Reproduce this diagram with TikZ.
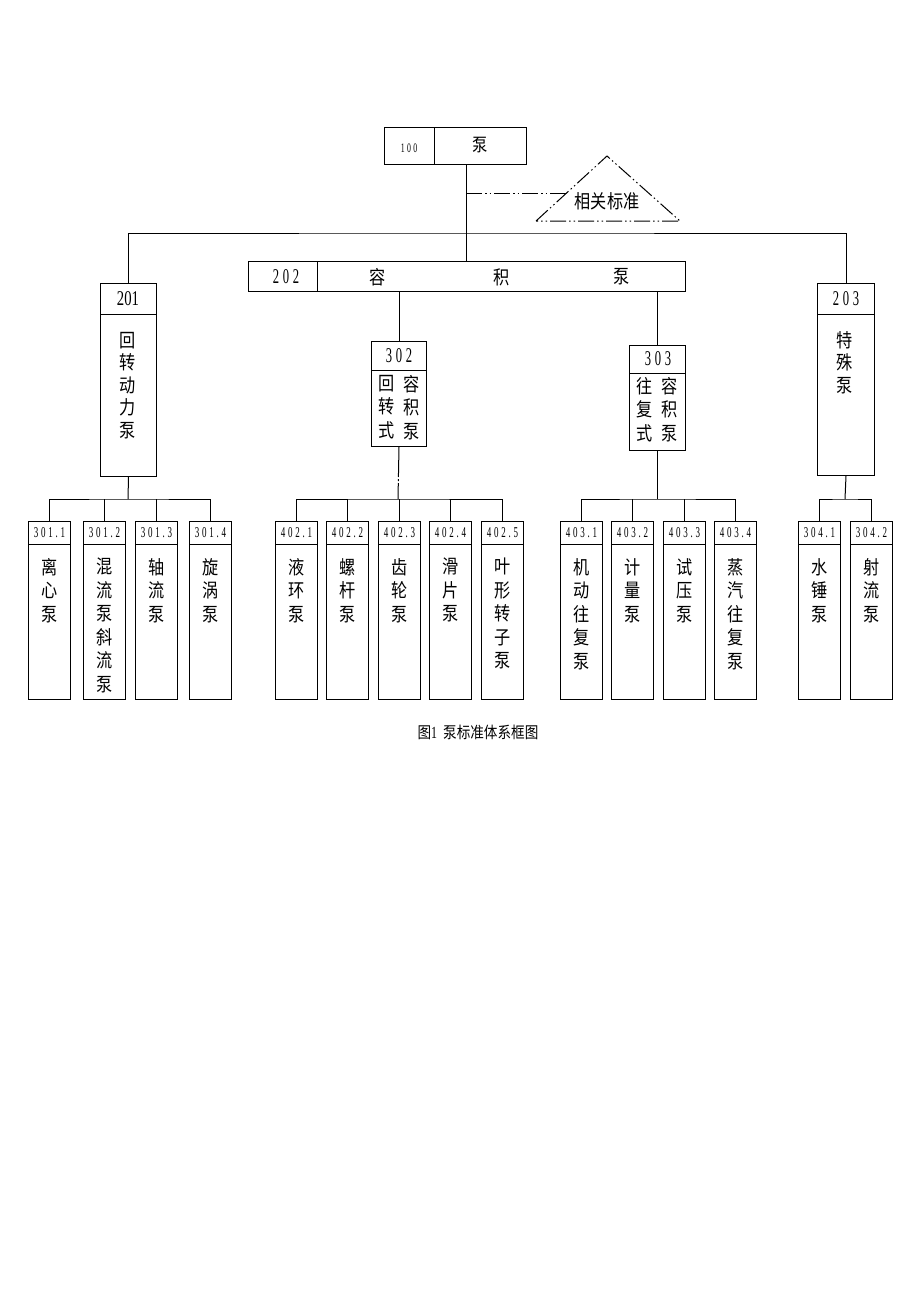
\documentclass[tikz,border=0pt]{standalone}
\usepackage{fontspec}
\newfontfamily\cjk[FakeStretch=0.85]{Noto Sans CJK SC}
\newfontfamily\numf[FakeStretch=0.6,LetterSpace=18]{Liberation Serif}
\newfontfamily\numc[FakeStretch=0.7]{Liberation Serif}
\usetikzlibrary{calc}
\tikzset{
  ln/.style={line width=1pt},
  dd/.style={line width=1pt, dash pattern=on 16pt off 3pt on 1.5pt off 3pt on 1.5pt off 3pt},
  box/.style={draw, line width=1pt, inner sep=0pt, anchor=north west},
  vt/.style={font=\cjk\fontsize{19}{23.5}\selectfont, align=center, inner sep=0pt, anchor=north},
  ch/.style={font=\cjk\fontsize{19}{19}\selectfont, inner sep=0pt},
  lab/.style={font=\numf\fontsize{15}{15}\selectfont, inner sep=0pt},
  big/.style={font=\numf\fontsize{21}{21}\selectfont, inner sep=0pt},
}
\newcommand\leafbox[4]{%
  \node[box, minimum width=42pt, minimum height=178pt] (#1) at (#2,521) {};
  \draw[ln] ($(#1.north west)+(0,23)$) -- ($(#1.north east)+(0,23)$);
  \node[lab] at ($(#1.north)+(0,11.5)$) {#3};
  \node[vt] at ($(#1.north)+(0,37)$) {#4};
}
\begin{document}
\begin{tikzpicture}[x=1pt,y=-1pt]
\useasboundingbox (0,0) rectangle (920,1302);
\fill[white] (0,0) rectangle (920,1302);

% top box
\node[box, minimum width=142pt, minimum height=37pt] (n100) at (384,127) {};
\draw[ln] (434,127) -- (434,164);
\node[lab, font=\numf\fontsize{13}{13}\selectfont] (t100) at (409,148) {100};
\node[ch, font=\cjk\fontsize{18}{18}\selectfont] (tb) at (480,145) {泵};

% related standards triangle
\coordinate (tL) at (536,221);
\coordinate (tA) at (607,156);
\coordinate (tR) at (680,221);
\coordinate (tS) at ($(tL)!0.43!(tA)$);
\draw[dd] (tL) -- (tA) -- (tR) -- cycle;
\node[ch] (rel) at (607,201) {相关标准};
\coordinate (j1) at (466,193);
\draw[dd] (j1) -- (tS |- j1);

% 202 box
\node[box, minimum width=437pt, minimum height=30pt] (n202) at (248,261) {};
\draw[ln] (317,261) -- (317,291);
\node[big] at (286,277) {202};
\node[ch] at (378,277) {容};
\node[ch] at (502,277) {积};
\node[ch] at (622,277) {泵};

% 201 box
\node[box, minimum width=56pt, minimum height=193pt] (n201) at (100,283) {};
\draw[ln] (100,314) -- (156,314);
\node[big, font=\numc\fontsize{21}{21}\selectfont] at (128,299) {201};
\node[vt, font=\cjk\fontsize{19}{22.5}\selectfont] at (128,332) {回\\转\\动\\力\\泵};

% 203 box
\node[box, minimum width=57pt, minimum height=192pt] (n203) at (817,283) {};
\draw[ln] (817,314) -- (874,314);
\node[big] at (846,299) {203};
\node[vt, font=\cjk\fontsize{19}{22.5}\selectfont] at (845,331) {特\\殊\\泵};

% 302 box
\node[box, minimum width=55pt, minimum height=105pt] (n302) at (371,341) {};
\draw[ln] (371,370) -- (426,370);
\node[big] at (399,356) {302};
\node[vt] at (387,375) {回\\转\\式};
\node[vt] at (412,375) {容\\积\\泵};

% 303 box
\node[box, minimum width=56pt, minimum height=105pt] (n303) at (629,345) {};
\draw[ln] (629,373) -- (685,373);
\node[big] at (658,359) {303};
\node[vt] at (645,377) {往\\复\\式};
\node[vt] at (670,377) {容\\积\\泵};

% connectors upper
\coordinate (j0) at (466,233);
\draw[ln] (j0 |- n100.south) -- (j0);
\draw[ln] (n201.north) |- (j0) -| (n203.north);
\draw[ln] (j0) -- (j0 |- n202.north);
\draw[ln] (n302.north) -- (n302.north |- n202.south);
\coordinate (j303) at (657,291);
\draw[ln] (j303) -- (j303 |- n303.north);

% leaves
\leafbox{l11}{28}{301.1}{离\\心\\泵}
\leafbox{l12}{83}{301.2}{混\\流\\泵\\斜\\流\\泵}
\leafbox{l13}{135}{301.3}{轴\\流\\泵}
\leafbox{l14}{189}{301.4}{旋\\涡\\泵}
\leafbox{l21}{275}{402.1}{液\\环\\泵}
\leafbox{l22}{326}{402.2}{螺\\杆\\泵}
\leafbox{l23}{378}{402.3}{齿\\轮\\泵}
\leafbox{l24}{429}{402.4}{滑\\片\\泵}
\leafbox{l25}{481}{402.5}{叶\\形\\转\\子\\泵}
\leafbox{l31}{560}{403.1}{机\\动\\往\\复\\泵}
\leafbox{l32}{611}{403.2}{计\\量\\泵}
\leafbox{l33}{663}{403.3}{试\\压\\泵}
\leafbox{l34}{714}{403.4}{蒸\\汽\\往\\复\\泵}
\leafbox{l41}{798}{304.1}{水\\锤\\泵}
\leafbox{l42}{850}{304.2}{射\\流\\泵}

% lower connectors
\coordinate (b1) at (128,499);
\draw[ln] (n201.south) -- (b1);
\draw[ln] (l11.north) |- (b1) -| (l14.north);
\draw[ln] (l12.north) -- (l12.north |- b1);
\draw[ln] (l13.north) -- (l13.north |- b1);

\coordinate (b2) at (398,499);
\draw[ln, dash pattern=on 30pt off 2pt on 2pt off 2pt on 40pt] (n302.south) -- (b2);
\draw[ln] (l21.north) |- (b2) -| (l25.north);
\draw[ln] (l22.north) -- (l22.north |- b2);
\draw[ln] (l23.north) -- (l23.north |- b2);
\draw[ln] (l24.north) -- (l24.north |- b2);

\coordinate (b3) at (657,499);
\draw[ln] (j303 |- n303.south) -- (b3);
\draw[ln] (l31.north) |- (b3) -| (l34.north);
\draw[ln] (l32.north) -- (l32.north |- b3);
\draw[ln] (l33.north) -- (l33.north |- b3);

\coordinate (b4) at (845,499);
\draw[ln] (n203.south) -- (b4);
\draw[ln] (l41.north) |- (b4) -| (l42.north);

% caption
\node[ch, font=\cjk\fontsize{16}{16}\selectfont] (cap) at (478,732) {图{\numc\fontsize{17}{17}\selectfont 1}\hspace{6pt}泵标准体系框图};
\end{tikzpicture}
\end{document}
